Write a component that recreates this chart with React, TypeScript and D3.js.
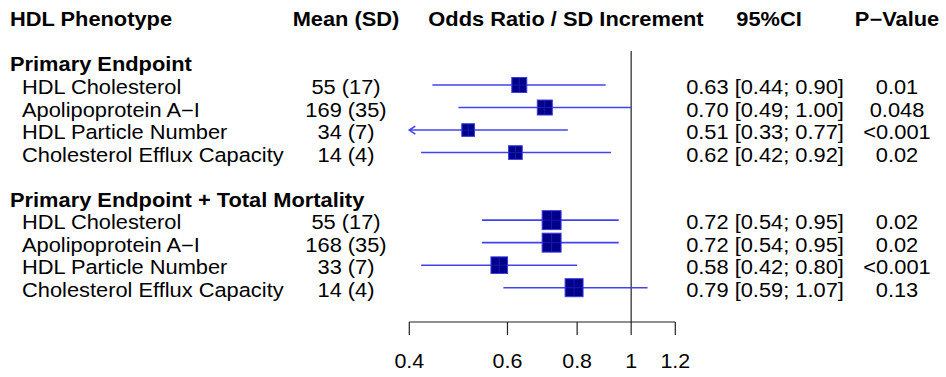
import React, { useEffect, useRef } from "react";
import * as d3 from "d3";

// columns of the table
const groupNames = ["Primary Endpoint", "Primary Endpoint + Total Mortality"];
const phenotypes = [
  "HDL Cholesterol",
  "Apolipoprotein A\u2212I",
  "HDL Particle Number",
  "Cholesterol Efflux Capacity",
];
const meanSd = [
  ["55 (17)", "169 (35)", "34 (7)", "14 (4)"],
  ["55 (17)", "168 (35)", "33 (7)", "14 (4)"],
];
const oddsRatio = [
  [0.63, 0.7, 0.51, 0.62],
  [0.72, 0.72, 0.58, 0.79],
];
const lowerCI = [
  [0.44, 0.49, 0.33, 0.42],
  [0.54, 0.54, 0.42, 0.59],
];
const upperCI = [
  [0.9, 1.0, 0.77, 0.92],
  [0.95, 0.95, 0.8, 1.07],
];
const pValues = [
  ["0.01", "0.048", "<0.001", "0.02"],
  ["0.02", "0.02", "<0.001", "0.13"],
];
const xTicks = [0.4, 0.6, 0.8, 1, 1.2];

const FONT = "'Liberation Sans', Arial, Helvetica, sans-serif";

function App() {
  const svgRef = useRef<SVGSVGElement>(null);
  const width = 946;
  const height = 377;

  useEffect(() => {
    const svg = d3.select(svgRef.current);
    svg.selectAll("*").remove();

    const x = d3.scaleLog().domain([0.4, 1.2]).range([409.3, 675.3]);
    // table rows: 0 = header, 2 = first group, 8 = second group
    const y = d3.scaleLinear().domain([3, 12]).range([85, 287.7]);
    // box size follows the precision of the estimate
    const boxSize = d3.scaleLinear().domain([0, 1]).range([0, 10.7]);

    const text = (
      tx: number,
      ty: number,
      str: string,
      anchor = "start",
      bold = false,
      size = 19.5,
      stretch = 1.12
    ) =>
      svg
        .append("text")
        .attr("transform", `translate(${tx},${ty}) scale(${stretch},1)`)
        .attr("text-anchor", anchor)
        .style("font-family", FONT)
        .style("font-size", `${size}px`)
        .style("font-weight", bold ? "bold" : "normal")
        .style("fill", "#000")
        .text(str);

    // header row
    const hy = y(0) + 9;
    text(10, hy, "HDL Phenotype", "start", true);
    text(346, hy, "Mean (SD)", "middle", true);
    text(566, hy, "Odds Ratio / SD Increment", "middle", true);
    text(769, hy, "95%CI", "middle", true);
    text(897, hy, "P\u2212Value", "middle", true);

    // reference line at OR = 1
    svg
      .append("line")
      .attr("x1", x(1))
      .attr("x2", x(1))
      .attr("y1", 51)
      .attr("y2", 322)
      .attr("stroke", "#222")
      .attr("stroke-width", 1.2);

    groupNames.forEach((gname, gi) => {
      const base = gi === 0 ? 2 : 8;
      text(10, y(base) + 9, gname, "start", true);

      phenotypes.forEach((ph, i) => {
        const row = base + 1 + i;
        const cy = y(row);
        text(22, cy + 9, ph);
        text(346, cy + 9, meanSd[gi][i], "middle");
        const ci = `${oddsRatio[gi][i].toFixed(2)} [${lowerCI[gi][i].toFixed(
          2
        )}; ${upperCI[gi][i].toFixed(2)}]`;
        text(765, cy + 9, ci, "middle");
        text(897, cy + 9, pValues[gi][i], "middle");

        const lo = lowerCI[gi][i];
        const hi = upperCI[gi][i];
        const clipped = lo < x.domain()[0];
        const x1 = x(Math.max(lo, x.domain()[0]));
        const x2 = x(hi);

        svg
          .append("line")
          .attr("x1", x1)
          .attr("x2", x2)
          .attr("y1", cy)
          .attr("y2", cy)
          .attr("stroke", "#4343ee")
          .attr("stroke-width", 1.6);

        if (clipped) {
          svg
            .append("path")
            .attr("d", `M${x1 + 6},${cy - 4} L${x1},${cy} L${x1 + 6},${cy + 4}`)
            .attr("fill", "none")
            .attr("stroke", "#4343ee")
            .attr("stroke-width", 1.6);
        }

        const s = boxSize(1 / (Math.log(hi) - Math.log(lo)));
        const cx = x(oddsRatio[gi][i]);
        svg
          .append("rect")
          .attr("x", cx - s / 2)
          .attr("y", cy - s / 2)
          .attr("width", s)
          .attr("height", s)
          .attr("fill", "#00008b")
          .attr("stroke", "#3a3ae0")
          .attr("stroke-width", 1);
        // faint cross inside the box
        svg
          .append("path")
          .attr(
            "d",
            `M${cx - s / 2},${cy} H${cx + s / 2} M${cx},${cy - s / 2} V${cy + s / 2}`
          )
          .attr("stroke", "#2a2ac0")
          .attr("stroke-width", 1)
          .attr("opacity", 0.6);
      });
    });

    // x axis
    const axisY = 322;
    svg
      .append("line")
      .attr("x1", x(xTicks[0]))
      .attr("x2", x(xTicks[xTicks.length - 1]))
      .attr("y1", axisY)
      .attr("y2", axisY)
      .attr("stroke", "#222")
      .attr("stroke-width", 1.2);
    xTicks.forEach((t) => {
      svg
        .append("line")
        .attr("x1", x(t))
        .attr("x2", x(t))
        .attr("y1", axisY)
        .attr("y2", axisY + 13)
        .attr("stroke", "#222")
        .attr("stroke-width", 1.2);
      text(x(t), 368, String(t), "middle", false, 21, 1.02);
    });
  }, []);

  return (
    <svg
      ref={svgRef}
      width={width}
      height={height}
      style={{ position: "absolute", left: 0, top: 0, background: "#fff" }}
    ></svg>
  );
}

export default App;
